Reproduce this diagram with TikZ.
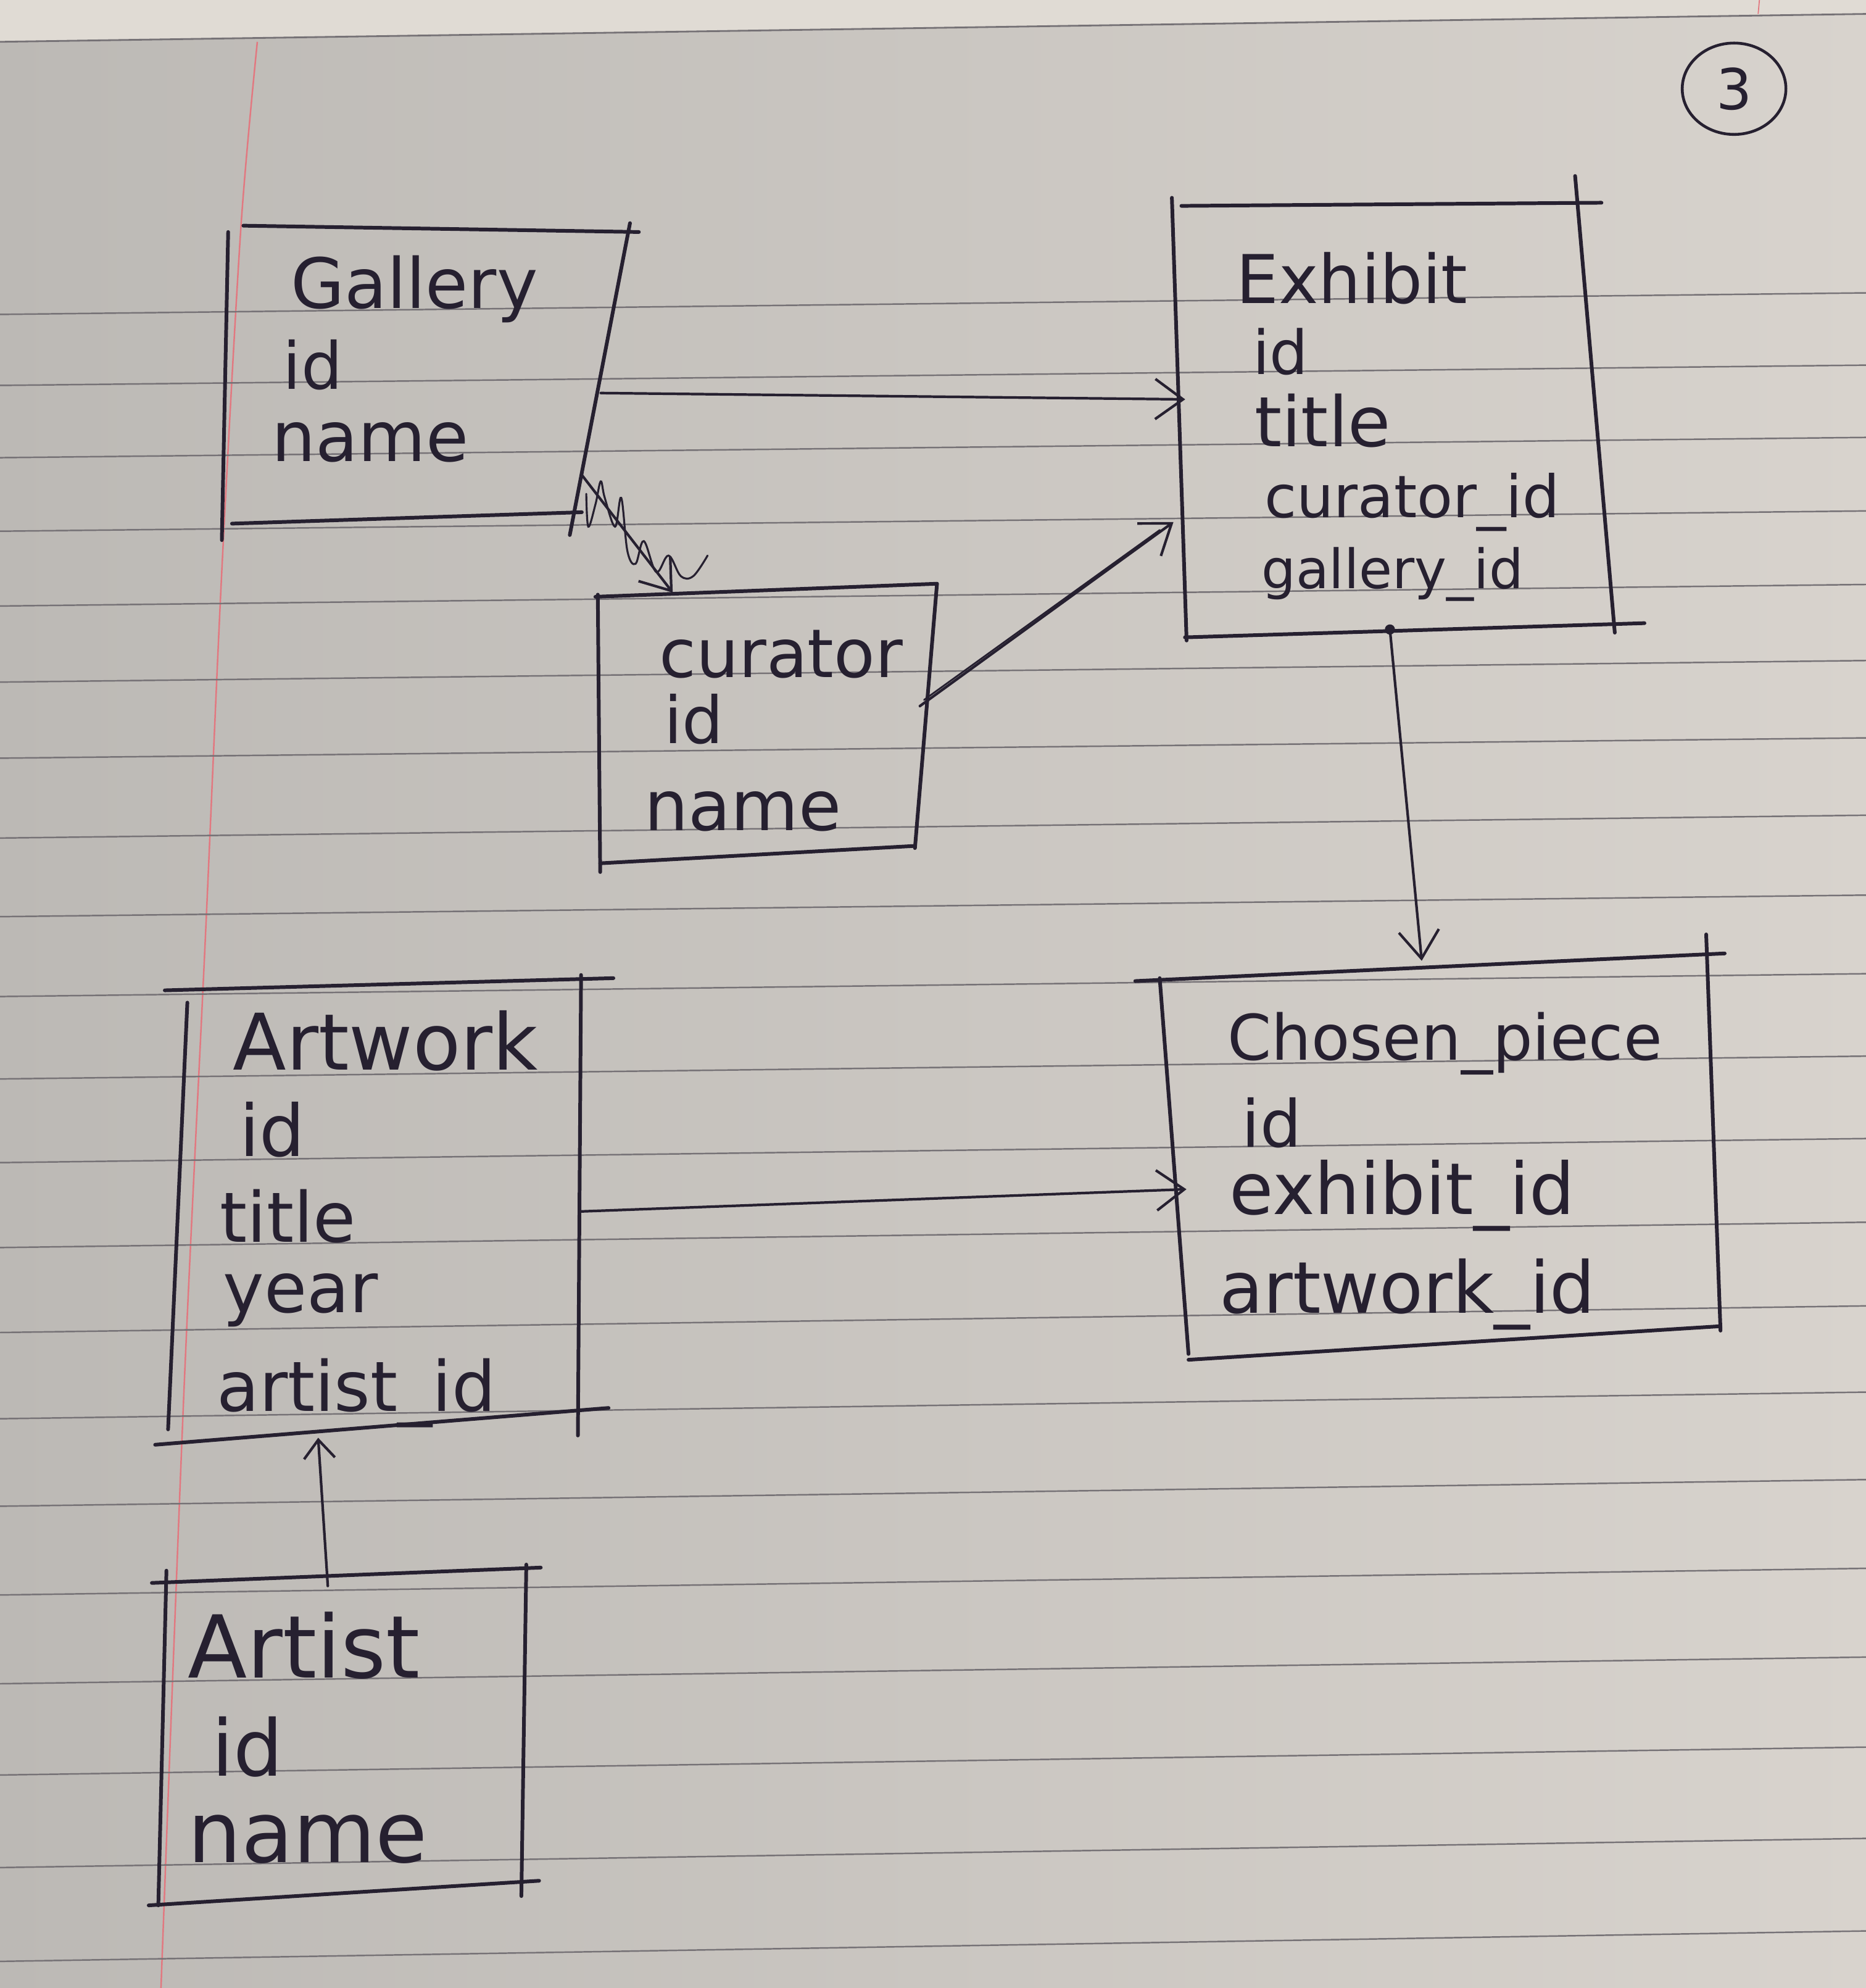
\documentclass[tikz,border=0pt]{standalone}
\usepackage{fontspec}
\setmainfont{DejaVu Sans}
\usetikzlibrary{arrows.meta,shapes.geometric}
\definecolor{ink}{RGB}{38,32,48}
\definecolor{paperL}{RGB}{188,185,181}
\definecolor{paperR}{RGB}{216,211,205}
\definecolor{paperTop}{RGB}{224,219,212}
\definecolor{ruleC}{RGB}{118,114,118}
\definecolor{marginC}{RGB}{226,120,128}
\newcommand\hwsz[1]{\fontsize{#1}{#1}\selectfont}
\begin{document}
\begin{tikzpicture}[x=0.2054mm,y=-0.2054mm,
  boxline/.style={draw=ink, line width=1.7pt, line cap=round},
  conn/.style={draw=ink, line width=1.2pt, line cap=round,
    -{Straight Barb[length=4.5mm,width=6.5mm]}},
  fld/.style={anchor=base west, inner sep=0pt, text=ink},
  rule/.style={draw=ruleC, line width=0.7pt}]
% ---------- paper ----------
\useasboundingbox (0,0) rectangle (1472,1568);
\fill[left color=paperL, right color=paperR] (0,0) rectangle (1472,1568);
\fill[paperTop] (0,0) -- (1472,0) -- (1472,11) -- (0,33) -- cycle;
\draw[ruleC, line width=0.8pt] (0,33) -- (1472,11);
\draw[marginC, line width=0.5pt] (1388,0) -- (1387,11);
\draw[marginC, line width=0.7pt] plot[smooth] coordinates {(203,33) (190,180) (175,450) (162,740) (145,1100) (127,1568)};
\foreach \a/\b in {248/231,304/288,361/345,419/403,478/461,538/521,598/582,661/643,723/706,786/768,851/833,917/898,984/964,1051/1030,1119/1098,1188/1167,1258/1237,1328/1307,1400/1378,1473/1450,1547/1523}
  \draw[rule] (0,\a) -- (1472,\b);
% ---------- page number ----------
\node[draw=ink, line width=1.3pt, ellipse, minimum width=16.8mm, minimum height=14.8mm,
      inner sep=0pt, text=ink, font=\hwsz{26}] (pg) at (1368,70) {3};
% ---------- Gallery ----------
\draw[boxline] (192,178) -- (504,183);
\draw[boxline] (180,183) -- (175,426);
\draw[boxline] (497,176) -- (449.5,422);
\draw[boxline] (183,413) -- (459,404);
\node[fld, font=\hwsz{32}] (galT) at (229,243) {Gallery};
\node[fld, font=\hwsz{30}] (galA) at (223,307) {id};
\node[fld, font=\hwsz{32}] (galB) at (214,364) {name};
% ---------- curator ----------
\draw[boxline] (469.7,470.7) -- (739.2,460.4);
\draw[boxline] (471.6,469) -- (473.5,687.8);
\draw[boxline] (739.2,460.4) -- (721.8,668.9);
\draw[boxline] (473.5,680.9) -- (721.8,667.2);
\node[fld, font=\hwsz{31}] (curT) at (519.7,534.5) {curator};
\node[fld, font=\hwsz{30}] (curA) at (523.6,586.2) {id};
\node[fld, font=\hwsz{32}] (curB) at (508,655) {name};
% ---------- Exhibit ----------
\draw[boxline] (932,162.4) -- (1263.4,159.9);
\draw[boxline] (924.5,156) -- (936.1,505.2);
\draw[boxline] (1242.6,138.8) -- (1273.9,499);
\draw[boxline] (934.8,502.7) -- (1297.3,491.5);
\node[fld, font=\hwsz{31}] (exhT) at (975,239.4) {Exhibit};
\node[fld, font=\hwsz{28}] (exhA) at (988,295.3) {id};
\node[fld, font=\hwsz{32}] (exhB) at (989.6,352.4) {title};
\node[fld, font=\hwsz{27}] (exhC) at (997.4,408.3) {curator\_id};
\node[fld, font=\hwsz{25}] (exhD) at (994.8,464.2) {gallery\_id};
% ---------- Chosen_piece ----------
\draw[boxline] (895.6,773.8) -- (1360.6,752);
\draw[boxline] (914.9,771.5) -- (937.6,1067.9);
\draw[boxline] (1346,737) -- (1357.3,1049.5);
\draw[boxline] (937.6,1072.5) -- (1357.3,1046);
\node[fld, font=\hwsz{29}] (chT) at (968.2,835.9) {Chosen\_piece};
\node[fld, font=\hwsz{30}] (chA) at (979.5,904.8) {id};
\node[fld, font=\hwsz{33}] (chB) at (969.8,957.6) {exhibit\_id};
\node[fld, font=\hwsz{33}] (chC) at (961.8,1035.7) {artwork\_id};
% ---------- Artwork ----------
\draw[boxline] (130,781.1) -- (483.9,771.5);
\draw[boxline] (147.8,790.8) -- (132.6,1127.4);
\draw[boxline] (458.4,769) -- (455.9,1132.2);
\draw[boxline] (122.4,1139.5) -- (480.1,1110.5);
\node[fld, font=\hwsz{36}] (awT) at (183.5,844.1) {Artwork};
\node[fld, font=\hwsz{33}] (awA) at (188.6,911.9) {id};
\node[fld, font=\hwsz{32}] (awB) at (173.3,979.7) {title};
\node[fld, font=\hwsz{32}] (awC) at (175.8,1035.4) {year};
\node[fld, font=\hwsz{32}] (awD) at (170.7,1112.9) {artist\_id};
% ---------- Artist ----------
\draw[boxline] (119.8,1248.5) -- (426.6,1236.4);
\draw[boxline] (131.3,1238.8) -- (124.9,1502.8);
\draw[boxline] (415.2,1234) -- (411.3,1495.5);
\draw[boxline] (117.3,1502.8) -- (425.3,1483.4);
\node[fld, font=\hwsz{40}] (arT) at (147.8,1323.6) {Artist};
\node[fld, font=\hwsz{36}] (arA) at (166.9,1401) {id};
\node[fld, font=\hwsz{39}] (arB) at (147.8,1468.8) {name};
% ---------- connector end points ----------
\coordinate (galE) at (474,310);
\coordinate (exhW1) at (935,315);
\coordinate (galSE) at (459.2,374.9);
\coordinate (curN) at (530.7,467.4);
\coordinate (curE) at (725.7,556.9);
\coordinate (exhW2) at (925.7,411.8);
\coordinate (curE2) at (729,552);
\coordinate (exhW3) at (915,418);
\coordinate (exhS) at (1096.5,496.5);
\coordinate (chN) at (1121.6,757.8);
\coordinate (awE) at (458.4,955.5);
\coordinate (chW) at (936,938);
\coordinate (arN) at (258.6,1250.9);
\coordinate (awS) at (251,1134);
% ---------- connectors ----------
\draw[conn] (galE) -- (exhW1);
\draw[conn] (galSE) -- (curN);
\draw[ink, line width=0.9pt, line cap=round] plot[smooth, tension=0.6] coordinates {(462.5,389.5) (464.1,415.4) (469.8,397.6) (473.9,379.7) (477.1,392.7) (485.2,415.4) (490.1,392.7) (495,434.9) (501.4,444.7) (507.9,426.8) (517.7,451.2) (527.4,438.2) (537.1,454.4) (546.9,454.4) (558.2,438.2)};
\draw[conn] (curE) -- (exhW2);
\draw[ink, line width=0.8pt, line cap=round] (curE2) -- (exhW3);
\fill[ink] (exhS) circle (4);
\draw[conn] (exhS) -- (chN);
\draw[conn] (awE) -- (chW);
\draw[conn, -{Straight Barb[length=3mm,width=5mm]}] (arN) -- (awS);
\end{tikzpicture}
\end{document}
